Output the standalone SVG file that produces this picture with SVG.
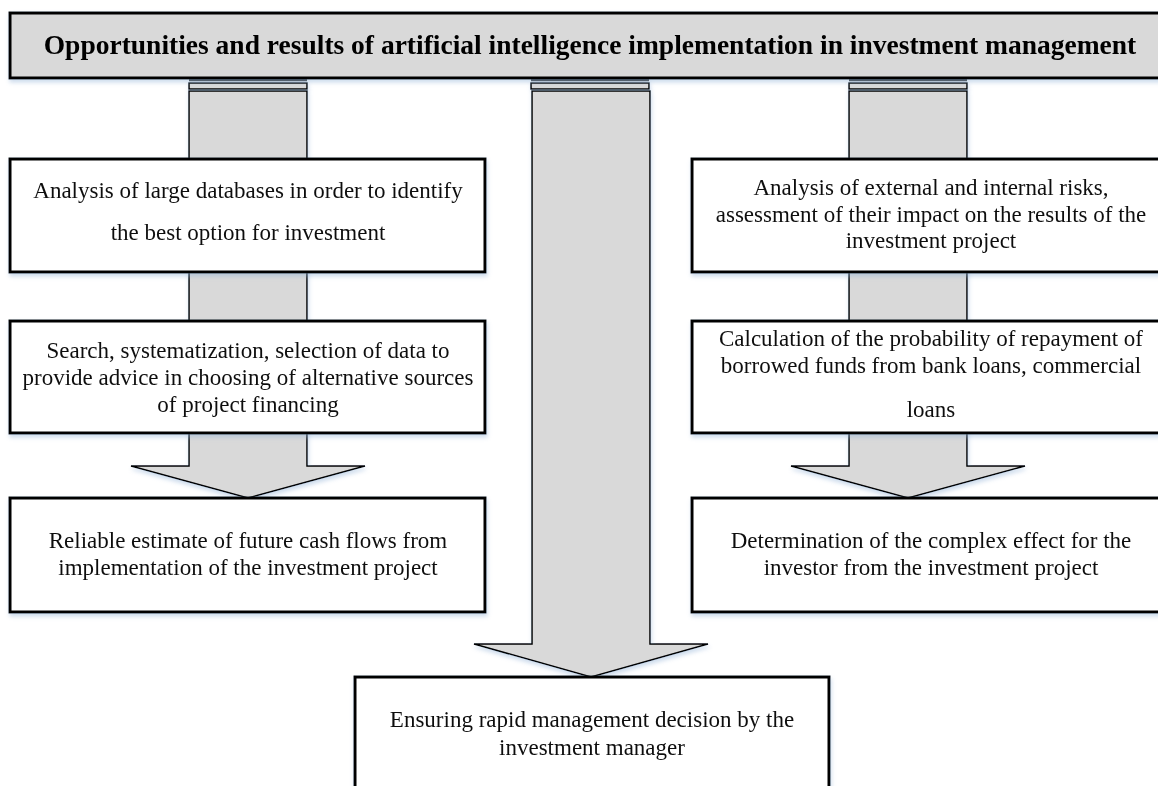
<svg xmlns="http://www.w3.org/2000/svg" width="1158" height="786" viewBox="0 0 1158 786">
<defs>
<filter id="sh" x="-5%" y="-5%" width="110%" height="120%">
<feDropShadow dx="1" dy="3" stdDeviation="2" flood-color="#8fb0d6" flood-opacity="0.45"/>
</filter>
<style>
.box{fill:#ffffff;stroke:#000;stroke-width:3;}
.title{fill:#d9d9d9;stroke:#000;stroke-width:3;}
.arr{fill:#d9d9d9;stroke:#000;stroke-width:1.5;stroke-linejoin:miter;}
.t{font-family:"Liberation Serif","Times New Roman",serif;font-size:23px;fill:#111;text-anchor:middle;}
.tb{font-family:"Liberation Serif","Times New Roman",serif;font-size:27.5px;font-weight:bold;fill:#000;text-anchor:middle;}
</style>
</defs>
<g id="connectors">
<g id="arrow-left" filter="url(#sh)">
<line x1="189" y1="80" x2="307" y2="80" stroke="#333" stroke-width="2.5"/>
<rect class="arr" x="189" y="83" width="118" height="6"/>
<polygon class="arr" points="189,91 307,91 307,466 365,466 248,498 131,466 189,466"/>
</g>
<g id="arrow-center" filter="url(#sh)">
<line x1="531" y1="80" x2="649" y2="80" stroke="#333" stroke-width="2.5"/>
<rect class="arr" x="531" y="83" width="118" height="6"/>
<polygon class="arr" points="532,91 650,91 650,644 708,644 591,677 474,644 532,644"/>
</g>
<g id="arrow-right" filter="url(#sh)">
<line x1="849" y1="80" x2="967" y2="80" stroke="#333" stroke-width="2.5"/>
<rect class="arr" x="849" y="83" width="118" height="6"/>
<polygon class="arr" points="849,91 967,91 967,466 1025,466 908,498 791,466 849,466"/>
</g>
</g>
<g id="node-title" filter="url(#sh)">
<rect class="title" x="10" y="13" width="1160" height="65"/>
<text class="tb" x="590" y="54">Opportunities and results of artificial intelligence implementation in investment management</text>
</g>
<g id="node-l1" filter="url(#sh)">
<rect class="box" x="10" y="159" width="475" height="113"/>
<text class="t" x="248" y="198">Analysis of large databases in order to identify</text>
<text class="t" x="248" y="240">the best option for investment</text>
</g>
<g id="node-l2" filter="url(#sh)">
<rect class="box" x="10" y="321" width="475" height="112"/>
<text class="t" x="248" y="358">Search, systematization, selection of data to</text>
<text class="t" x="248" y="385">provide advice in choosing of alternative sources</text>
<text class="t" x="248" y="412">of project financing</text>
</g>
<g id="node-l3" filter="url(#sh)">
<rect class="box" x="10" y="498" width="475" height="114"/>
<text class="t" x="248" y="548">Reliable estimate of future cash flows from</text>
<text class="t" x="248" y="575">implementation of the investment project</text>
</g>
<g id="node-r1" filter="url(#sh)">
<rect class="box" x="692" y="159" width="478" height="113"/>
<text class="t" x="931" y="195">Analysis of external and internal risks,</text>
<text class="t" x="931" y="222">assessment of their impact on the results of the</text>
<text class="t" x="931" y="248">investment project</text>
</g>
<g id="node-r2" filter="url(#sh)">
<rect class="box" x="692" y="321" width="478" height="112"/>
<text class="t" x="931" y="346">Calculation of the probability of repayment of</text>
<text class="t" x="931" y="373">borrowed funds from bank loans, commercial</text>
<text class="t" x="931" y="417">loans</text>
</g>
<g id="node-r3" filter="url(#sh)">
<rect class="box" x="692" y="498" width="478" height="114"/>
<text class="t" x="931" y="548">Determination of the complex effect for the</text>
<text class="t" x="931" y="575">investor from the investment project</text>
</g>
<g id="node-bottom" filter="url(#sh)">
<rect class="box" x="355" y="677" width="474" height="130"/>
<text class="t" x="592" y="727">Ensuring rapid management decision by the</text>
<text class="t" x="592" y="755">investment manager</text>
</g>
</svg>
